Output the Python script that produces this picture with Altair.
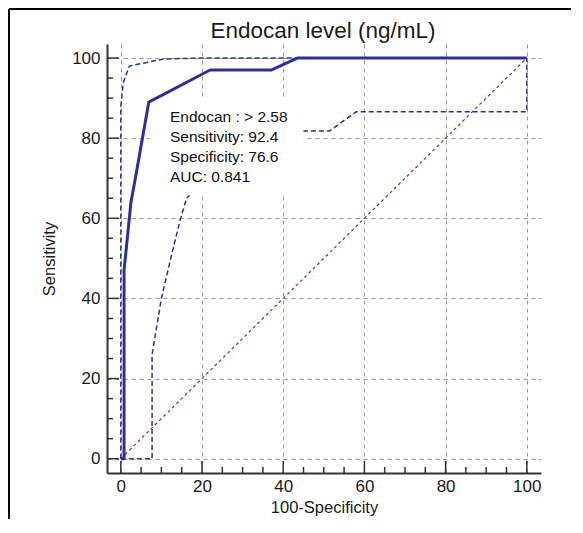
import altair as alt
import pandas as pd

# ---- data ----
roc_x = [0, 0.8, 0.8, 1.3, 1.9, 2.5, 3.5, 6.9, 22, 37, 43.5, 100]
roc_y = [0, 0, 47, 52, 58, 64, 69.5, 89, 97, 97, 100, 100]

upper_x = [0, 0, 0.6, 2.1, 10.5, 20, 100]
upper_y = [0, 88, 93.8, 98, 99.75, 100, 100]

lower_x = [0, 7.7, 7.7, 10, 12.3, 14.6, 16.2, 20, 30, 40, 44.8, 51.4, 58, 100, 100]
lower_y = [0, 0, 26, 40, 50, 59.5, 65, 69, 76, 80.5, 81.8, 81.8, 86.6, 86.6, 100]

diag_x = [0, 100]
diag_y = [0, 100]

major_ticks = [0, 20, 40, 60, 80, 100]
minor_ticks = [5, 10, 15, 25, 30, 35, 45, 50, 55, 65, 70, 75, 85, 90, 95]

title_text = "Endocan level (ng/mL)"
info_lines = ["Endocan : > 2.58", "Sensitivity: 92.4", "Specificity: 76.6", "AUC: 0.841"]
info_y = [85.3, 80.3, 75.3, 70.4]
info_x = 12.1
box = {"x": 7.2, "x2": 45.0, "y": 65.7, "y2": 89.5}

FONT = "Liberation Sans"
NAVY = "#2E3192"
W, H = 434, 429
PAD = {"left": 99, "top": 36, "right": 30, "bottom": 46}

xs = alt.Scale(domain=[-3.4, 103.5], nice=False, zero=False)
ys = alt.Scale(domain=[-3.57, 103.5], nice=False, zero=False)

xaxis = alt.Axis(values=major_ticks, grid=True, gridDash=[4, 4], gridColor="#9a9a9a",
                 gridWidth=1, ticks=False, domainColor="#333333", domainWidth=2,
                 labelFont=FONT, labelFontSize=17, labelColor="#1a1a1a", labelPadding=5,
                 titleFont=FONT, titleFontSize=16.5, titleFontWeight="normal",
                 titleColor="#1a1a1a", titlePadding=5, labelFlush=False)
yaxis = alt.Axis(values=major_ticks, grid=True, gridDash=[4, 4], gridColor="#9a9a9a",
                 gridWidth=1, ticks=False, domainColor="#333333", domainWidth=2,
                 labelFont=FONT, labelFontSize=17, labelColor="#1a1a1a", labelPadding=7,
                 titleFont=FONT, titleFontSize=16.5, titleFontWeight="normal",
                 titleColor="#1a1a1a", titlePadding=14, labelFlush=False)


def X(f="x"):
    return alt.X(f"{f}:Q", scale=xs, axis=xaxis, title="100-Specificity")


def Y(f="y"):
    return alt.Y(f"{f}:Q", scale=ys, axis=yaxis, title="Sensitivity")


def df(xv, yv):
    return pd.DataFrame({"x": xv, "y": yv, "i": list(range(len(xv)))})


diag = alt.Chart(df(diag_x, diag_y)).mark_line(
    color="#A0282A", strokeDash=[3, 3], strokeWidth=1.2).encode(x=X(), y=Y(), order="i:Q")

upper = alt.Chart(df(upper_x, upper_y)).mark_line(
    color=NAVY, strokeDash=[5, 3], strokeWidth=1.5).encode(x=X(), y=Y(), order="i:Q")

lower = alt.Chart(df(lower_x, lower_y)).mark_line(
    color=NAVY, strokeDash=[5, 3], strokeWidth=1.5).encode(x=X(), y=Y(), order="i:Q")

boxdf = pd.DataFrame([box])
rect = alt.Chart(boxdf).mark_rect(color="white").encode(
    x=X("x"), x2="x2:Q", y=Y("y"), y2="y2:Q")

txt = alt.Chart(pd.DataFrame({"t": info_lines, "y": info_y, "x": [info_x] * len(info_lines)})).mark_text(
    align="left", baseline="middle", font=FONT, fontSize=15.5, color="#111111").encode(
    x=X(), y=Y(), text="t:N")

roc = alt.Chart(df(roc_x, roc_y)).mark_line(
    color=NAVY, strokeWidth=3, strokeJoin="round").encode(x=X(), y=Y(), order="i:Q")

# inward ticks
ymaj = alt.Chart(pd.DataFrame({"y": major_ticks})).mark_rule(color="#333333", strokeWidth=1.5).encode(
    y=Y(), x=alt.value(0), x2=alt.value(12))
ymin = alt.Chart(pd.DataFrame({"y": minor_ticks})).mark_rule(color="#333333", strokeWidth=1.5).encode(
    y=Y(), x=alt.value(0), x2=alt.value(6))
xmaj = alt.Chart(pd.DataFrame({"x": major_ticks})).mark_rule(color="#333333", strokeWidth=1.5).encode(
    x=X(), y=alt.value(H), y2=alt.value(H - 12))
xmin = alt.Chart(pd.DataFrame({"x": minor_ticks})).mark_rule(color="#333333", strokeWidth=1.5).encode(
    x=X(), y=alt.value(H), y2=alt.value(H - 6))

# chart title as text
title = alt.Chart(pd.DataFrame({"t": [title_text]})).mark_text(
    align="center", baseline="alphabetic", font=FONT, fontSize=22.5, color="#1a1a1a").encode(
    text="t:N", x=alt.value(W / 2 - 1), y=alt.value(-6.5))

# outer frame (left and top edges)
frame_top = alt.Chart(pd.DataFrame({"k": [0]})).mark_rule(color="#000000", strokeWidth=2).encode(
    x=alt.value(-PAD["left"] + 1), x2=alt.value(W + PAD["right"]), y=alt.value(-PAD["top"] + 1))
frame_left = alt.Chart(pd.DataFrame({"k": [0]})).mark_rule(color="#000000", strokeWidth=2).encode(
    x=alt.value(-PAD["left"] + 1), y=alt.value(-PAD["top"] + 1), y2=alt.value(H + PAD["bottom"]))

chart = alt.layer(
    diag, upper, lower, rect, txt, roc, ymaj, ymin, xmaj, xmin, title, frame_top, frame_left
).properties(
    width=W, height=H,
    autosize=alt.AutoSizeParams(type="none"),
    padding=PAD,
).configure_view(stroke="transparent")

chart.save("out.html", embed_options={"renderer": "svg", "actions": False})
